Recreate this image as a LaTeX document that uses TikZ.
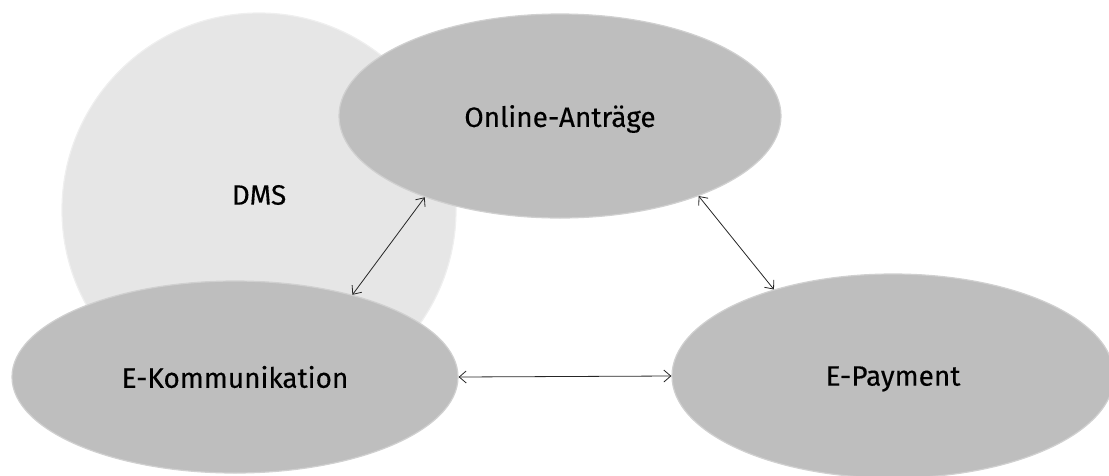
\documentclass[tikz,border=0pt]{standalone}
\usepackage{fontspec}
\setmainfont{Fira Sans}[UprightFeatures={FakeBold=0.3}]
\usetikzlibrary{shapes.geometric,arrows.meta}
\definecolor{ellfill}{HTML}{BEBEBE}
\definecolor{ellrim}{HTML}{D0D0D0}
\definecolor{circfill}{HTML}{E6E6E6}
\definecolor{circrim}{HTML}{EFEFEF}
\begin{document}
\begin{tikzpicture}[x=1pt,y=-1pt,
  bubble/.style={ellipse, fill=ellfill, draw=ellrim, line width=1.2pt, inner sep=0pt},
  lbl/.style={font=\fontsize{28}{32}\selectfont, text=black},
  link/.style={{Straight Barb[length=7pt,width=12pt]}-{Straight Barb[length=7pt,width=12pt]}, line width=0.8pt, draw=black!85}]
\useasboundingbox (0,0) rectangle (1109,475);
\clip (0,0) rectangle (1109,475);
\node[circle, fill=circfill, draw=circrim, line width=1.2pt, minimum size=394pt, inner sep=0pt] (dms) at (259,210) {};
\node[lbl] (dmstext) at (259,195) {DMS};
\node[bubble, minimum width=442pt, minimum height=204pt, lbl, text depth=0pt] (oa) at (560,116) {Online-Anträge};
\node[bubble, minimum width=446pt, minimum height=192pt, lbl] (ek) at (235,377) {E-Kommunikation};
\node[bubble, minimum width=442pt, minimum height=204pt, lbl, text depth=0pt] (ep) at (893,376) {E-Payment};
\draw[link] (ek.35) -- (oa.211);
\draw[link] (oa.330) -- (ep.144);
\draw[link] (ek.east) -- (ep.west);
\end{tikzpicture}
\end{document}
